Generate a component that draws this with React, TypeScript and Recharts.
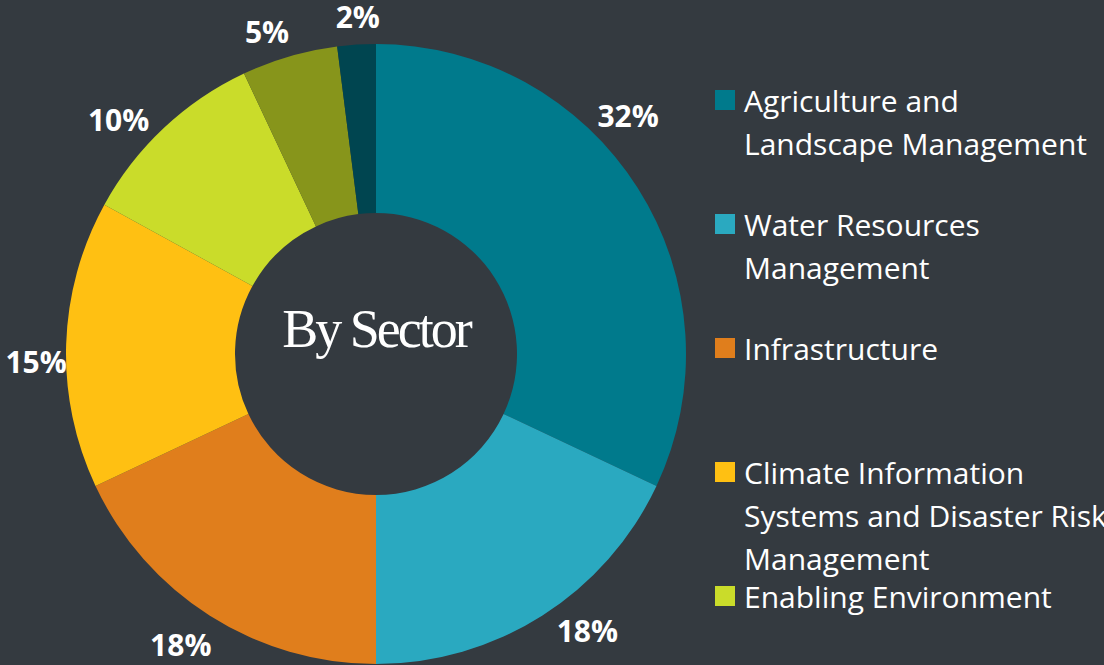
import React from 'react'
import { PieChart, Pie, Cell, Legend } from 'recharts'

// sectors, clockwise from 12 o'clock
const sectors = [
  'Agriculture and\nLandscape Management',
  'Water Resources\nManagement',
  'Infrastructure',
  'Climate Information\nSystems and Disaster Risk\nManagement',
  'Enabling Environment',
  'Cross-cutting',
  'Other',
]
const shares = [32, 18, 18, 15, 10, 5, 2]
const colors = ['#007a8c', '#2aa9c0', '#e07e1c', '#ffc012', '#cadc2a', '#87951b', '#004550']
// the legend box in the original only has room for the first five
const legendCount = 5

const data = sectors.map((name, i) => ({ name, value: shares[i] }))

const BG = '#343a40'
const RAD = Math.PI / 180
const FONT = '"Open Sans", "Noto Sans", sans-serif'

// hand placed labels in the source deck: small angle / distance nudges per slice
const labelTurn = [-11, -5, 1.5, -3, -4.5, -2.5, 0.5]
const labelGap = [37, 38, 40, 30, 38, 30, 28]

function renderLabel(props: any) {
  const { cx, cy, midAngle, outerRadius, value, index } = props
  const fromTop = (90 - midAngle + labelTurn[index]) * RAD
  const r = outerRadius + labelGap[index]
  const x = cx + r * Math.sin(fromTop)
  const y = cy - r * Math.cos(fromTop)
  return (
    <text
      x={x}
      y={y}
      fill="#ffffff"
      textAnchor="middle"
      dominantBaseline="central"
      style={{ fontFamily: FONT, fontSize: 30, fontWeight: 700 }}
    >
      {`${value}%`}
    </text>
  )
}

function SectorLegend() {
  return (
    <div style={{ position: 'relative', width: 390, height: 600 }}>
      {data.slice(0, legendCount).map((d, i) => (
        <div
          key={d.name}
          style={{ position: 'absolute', left: 0, top: i * 124, whiteSpace: 'pre' }}
        >
          <span
            style={{
              position: 'absolute',
              left: 0,
              top: 11,
              width: 20,
              height: 20,
              background: colors[i],
            }}
          />
          <div
            style={{
              marginLeft: 29,
              fontFamily: FONT,
              fontSize: 30,
              lineHeight: '43px',
              color: '#ffffff',
            }}
          >
            {d.name}
          </div>
        </div>
      ))}
    </div>
  )
}

export default function App() {
  return (
    <div
      style={{
        position: 'absolute',
        left: 0,
        top: 0,
        width: 1104,
        height: 665,
        background: BG,
        overflow: 'hidden',
      }}
    >
      <style>{`.recharts-pie-sectors { filter: drop-shadow(3px 3px 5px rgba(0,0,0,0.45)); }`}</style>
      <PieChart width={1104} height={665} margin={{ top: 0, right: 0, bottom: 0, left: 0 }}>
        <Pie
          data={data}
          dataKey="value"
          nameKey="name"
          cx={376}
          cy={354}
          innerRadius={141}
          outerRadius={310}
          startAngle={90}
          endAngle={-270}
          stroke="none"
          label={renderLabel}
          labelLine={false}
          isAnimationActive={false}
        >
          {data.map((d, i) => (
            <Cell key={d.name} fill={colors[i]} />
          ))}
        </Pie>
        <Legend
          content={<SectorLegend />}
          layout="vertical"
          wrapperStyle={{ position: 'absolute', left: 715, top: 79, width: 390 }}
        />
        <text
          x={376}
          y={347}
          textAnchor="middle"
          fill="#ffffff"
          style={{ fontFamily: '"Liberation Serif", "DejaVu Serif", serif', fontSize: 54, letterSpacing: -3 }}
        >
          By Sector
        </text>
      </PieChart>
    </div>
  )
}
